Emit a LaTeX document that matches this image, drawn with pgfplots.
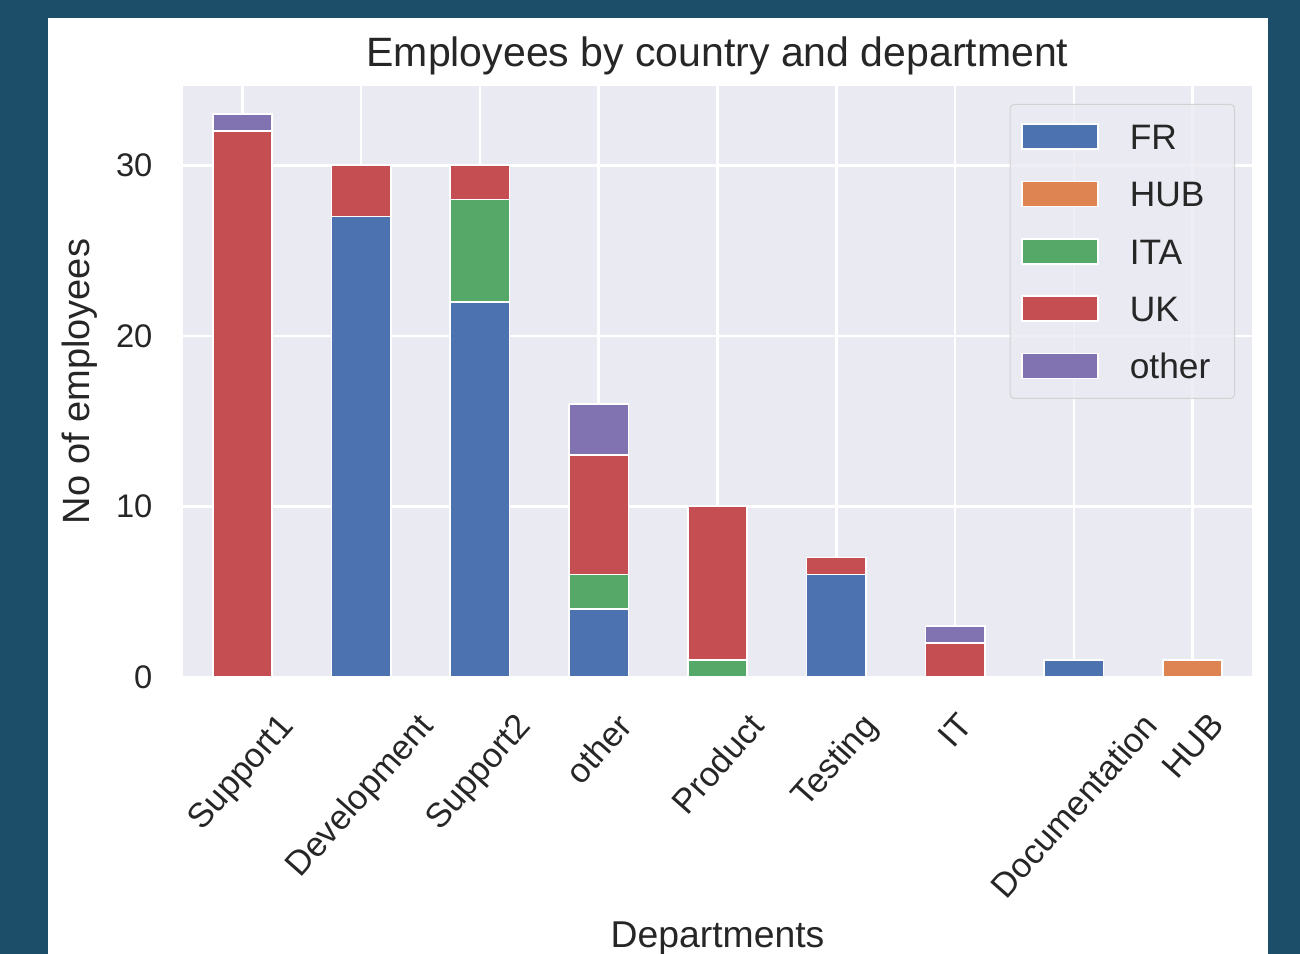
\documentclass[border=0pt]{standalone}
\usepackage{fontspec}
\setmainfont{Liberation Sans}
\usepackage{graphicx}
\usepackage{pgfplots}
\usepackage{pgfplotstable}
\pgfplotsset{compat=1.18}
\definecolor{bgdark}{RGB}{28,78,106}
\definecolor{axbg}{HTML}{EAEAF2}
\definecolor{cFR}{HTML}{4C72B0}
\definecolor{cHUB}{HTML}{DD8452}
\definecolor{cITA}{HTML}{55A868}
\definecolor{cUK}{HTML}{C44E52}
\definecolor{cOT}{HTML}{8172B2}
\definecolor{txt}{HTML}{262626}
\definecolor{legedge}{HTML}{CCCCCC}

\pgfplotstableread{
x FR HUB ITA UK other
0 0 0 0 32 1
1 27 0 0 3 0
2 22 0 6 2 0
3 4 0 2 7 3
4 0 0 1 9 0
5 6 0 0 1 0
6 0 0 0 2 1
7 1 0 0 0 0
8 0 1 0 0 0
}\datatable

\newcommand{\rl}[1]{\rotatebox{48.5}{#1}}

\begin{document}
\begin{tikzpicture}
\path[use as bounding box] (0,0) rectangle (390bp,286.2bp);
\clip (0,0) rectangle (390bp,286.2bp);
\fill[bgdark] (0,0) rectangle (390bp,286.2bp);
\fill[white] (14.4bp,0) rectangle (380.4bp,280.8bp);
\begin{axis}[
  at={(54.9bp,83.1bp)}, anchor=south west,
  width=320.7bp, height=177.3bp, scale only axis,
  ybar stacked, bar width=0.5,
  xmin=-0.5, xmax=8.5, ymin=0, ymax=34.65,
  enlargelimits=false,
  axis background/.style={fill=axbg},
  axis line style={draw=none},
  major tick length=0pt,
  tick style={draw=none},
  grid=major,
  major grid style={white, line width=0.75bp},
  ytick={0,10,20,30},
  xtick={0,1,2,3,4,5,6,7,8},
  xticklabels={\rl{Support1},\rl{Development},\rl{Support2},\rl{other},\rl{Product},\rl{Testing},\rl{IT},\rl{Documentation},\rl{HUB}},
  /pgf/number format/assume math mode=true,
  every tick label/.append style={font=\fontsize{9.8bp}{11bp}\selectfont, text=txt},
  xticklabel style={anchor=north, inner sep=0pt, yshift=-10bp, font=\fontsize{10.3bp}{12bp}\selectfont},
  yticklabel style={anchor=east, inner sep=0pt, xshift=-9bp},
  title={Employees by country and department},
  title style={at={(axis description cs:0.5,1)}, anchor=base, inner sep=0pt, yshift=-0.28bp, font=\fontsize{12.3bp}{14bp}\selectfont, text=txt},
  xlabel={Departments},
  xlabel style={at={(axis description cs:0.5,0)}, anchor=base, inner sep=0pt, yshift=-81bp, font=\fontsize{11.2bp}{13bp}\selectfont, text=txt},
  ylabel={No of employees},
  ylabel style={at={(axis description cs:0,0.5)}, anchor=base, inner sep=0pt, yshift=28bp, font=\fontsize{11.4bp}{13bp}\selectfont, text=txt},
  every axis plot/.append style={legend image code/.code={\draw[#1, sharp corners, fill opacity=1, draw opacity=1] (0bp,-3.75bp) rectangle (22.8bp,3.75bp);}},
  legend cell align=left,
  legend style={at={(1,1)}, anchor=north east, xshift=-5.1bp, yshift=-5.4bp,
    draw=legedge, fill=axbg, fill opacity=0.8, draw opacity=0.8, text opacity=1,
    rounded corners=1.2bp, line width=0.3bp,
    inner xsep=3.3bp, inner ysep=5.7bp, row sep=9.2bp, column sep=9.3bp,
    font=\fontsize{10.6bp}{12bp}\selectfont, text=txt,
    nodes={inner sep=0pt, text height=7.6bp, text depth=0pt, text width=28.1bp, align=left}},
]
\addplot[fill=cFR, draw=white, line width=0.5bp] table[x=x,y=FR]{\datatable};
\addplot[fill=cHUB, draw=white, line width=0.5bp] table[x=x,y=HUB]{\datatable};
\addplot[fill=cITA, draw=white, line width=0.5bp] table[x=x,y=ITA]{\datatable};
\addplot[fill=cUK, draw=white, line width=0.5bp] table[x=x,y=UK]{\datatable};
\addplot[fill=cOT, draw=white, line width=0.5bp] table[x=x,y=other]{\datatable};
\legend{FR,HUB,ITA,UK,other}
\end{axis}
\end{tikzpicture}
\end{document}
